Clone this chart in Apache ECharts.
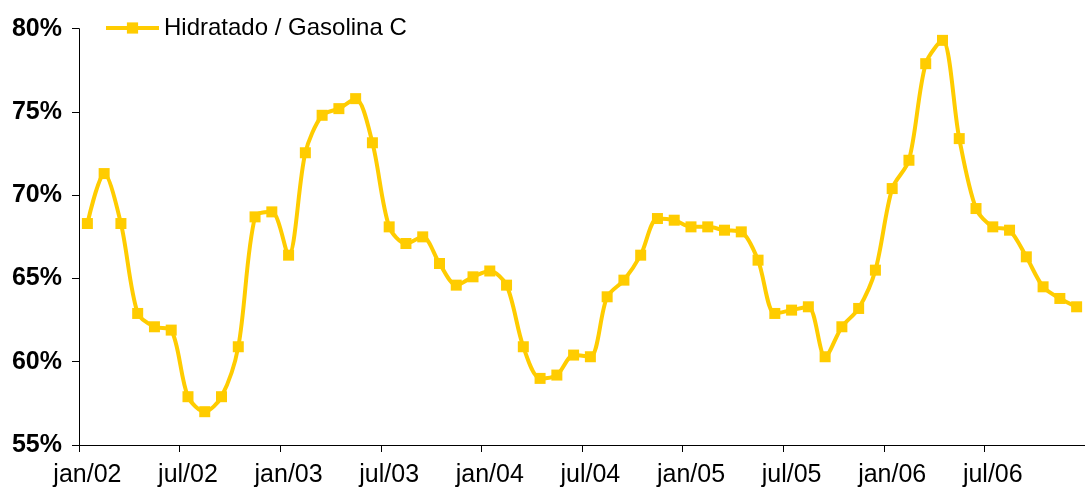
<!DOCTYPE html>
<html>
<head>
<meta charset="utf-8">
<script src="https://cdn.jsdelivr.net/npm/echarts@6/dist/echarts.min.js"></script>
<style>
html,body{margin:0;padding:0;background:#fff;}
#c{width:1085px;height:488px;}
</style>
</head>
<body>
<div id="c"></div>
<script>
var seriesName = 'Hidratado / Gasolina C';
var years = ['02','03','04','05','06'];
var months = ['jan','fev','mar','abr','mai','jun','jul','ago','set','out','nov','dez'];
var categories = [];
years.forEach(function(y){ months.forEach(function(m){ categories.push(m + '/' + y); }); });
var values = [
  68.3, 71.3, 68.3, 62.9, 62.1, 61.9, 57.9, 57.0, 57.9, 60.9, 68.7, 69.0,
  66.4, 72.55, 74.8, 75.2, 75.8, 73.15, 68.1, 67.1, 67.5, 65.9, 64.6, 65.1,
  65.45, 64.6, 60.9, 59.0, 59.2, 60.4, 60.3, 63.9, 64.9, 66.4, 68.6, 68.5,
  68.1, 68.1, 67.9, 67.8, 66.1, 62.9, 63.1, 63.3, 60.3, 62.1, 63.2, 65.5,
  70.4, 72.1, 77.9, 79.3, 73.4, 69.2, 68.1, 67.9, 66.3, 64.5, 63.8, 63.3
];
var yTicks = [55, 60, 65, 70, 75, 80];

var FONT = 'Liberation Sans, Arial, sans-serif';
var chart = echarts.init(document.getElementById('c'));
chart.setOption({
  animation: false,
  backgroundColor: '#ffffff',
  textStyle: { fontFamily: FONT },
  grid: { left: 79, right: -5, top: 28.7, bottom: 41.3, containLabel: false },
  legend: {
    data: [seriesName],
    left: 104, top: 16, padding: 0,
    itemWidth: 53, itemHeight: 14,
    lineStyle: { width: 4 },
    textStyle: { fontSize: 24, color: '#000', fontFamily: FONT }
  },
  xAxis: {
    type: 'category',
    data: categories,
    boundaryGap: true,
    axisLine: { lineStyle: { color: '#000', width: 1 } },
    axisTick: { show: true, interval: 5, length: 7, lineStyle: { color: '#000' } },
    axisLabel: {
      interval: 5, color: '#000', fontSize: 25, margin: 18,
      fontFamily: FONT
    },
    splitLine: { show: false }
  },
  yAxis: {
    type: 'value',
    min: yTicks[0], max: yTicks[yTicks.length-1], interval: 5,
    axisLine: { show: true, lineStyle: { color: '#000', width: 1 } },
    axisTick: { show: true, length: 7, lineStyle: { color: '#000' } },
    axisLabel: {
      color: '#000', fontSize: 25, fontWeight: 'bold', margin: 17,
      fontFamily: FONT,
      formatter: function(v){ return v + '%'; }
    },
    splitLine: { show: false }
  },
  series: [{
    name: seriesName,
    type: 'line',
    data: values,
    smooth: 0.3,
    symbol: 'rect',
    symbolSize: 11,
    lineStyle: { color: '#FFCC00', width: 4 },
    itemStyle: { color: '#FFCC00' },
    clip: false
  }]
});
</script>
</body>
</html>
